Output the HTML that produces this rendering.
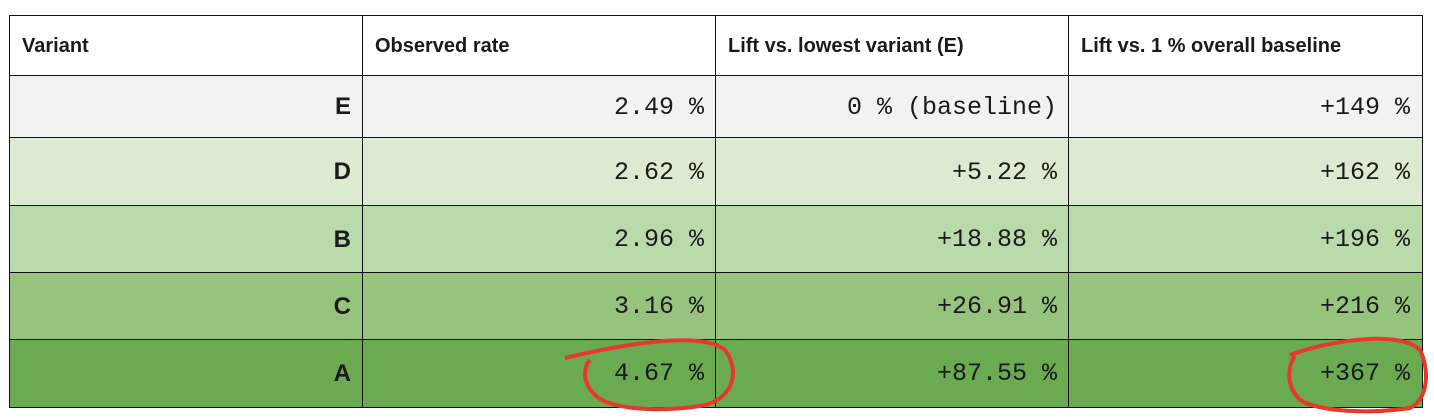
<!DOCTYPE html><html><head><style>
body{margin:0;width:1434px;height:420px;background:#fff;position:relative;overflow:hidden}
.c{position:absolute;box-sizing:border-box;border:1.5px solid #111;display:flex;align-items:center;padding:0 12px}
.h{font:bold 20px "Liberation Sans",sans-serif;color:#1a1a1a;background:#fff}
.n{justify-content:flex-end;font:25px "Liberation Mono",monospace;color:#1a1a1a}
.v{justify-content:flex-end;font:bold 24px "Liberation Sans",sans-serif;color:#1a1a1a}
</style></head><body>
<div class="c h" style="left:9px;top:15px;width:355px;height:62px">Variant</div>
<div class="c h" style="left:362px;top:15px;width:355px;height:62px">Observed rate</div>
<div class="c h" style="left:715px;top:15px;width:355px;height:62px">Lift vs. lowest variant (E)</div>
<div class="c h" style="left:1068px;top:15px;width:355px;height:62px">Lift vs. 1 % overall baseline</div>

<div class="c v" style="left:9px;top:75px;width:355px;height:64px;background:#f2f2f2">E</div>
<div class="c n" style="left:362px;top:75px;width:355px;height:64px;background:#f2f2f2">2.49 %</div>
<div class="c n" style="left:715px;top:75px;width:355px;height:64px;background:#f2f2f2">0 % (baseline)</div>
<div class="c n" style="left:1068px;top:75px;width:355px;height:64px;background:#f2f2f2">+149 %</div>

<div class="c v" style="left:9px;top:137px;width:355px;height:70px;background:#dbead0">D</div>
<div class="c n" style="left:362px;top:137px;width:355px;height:70px;background:#dbead0">2.62 %</div>
<div class="c n" style="left:715px;top:137px;width:355px;height:70px;background:#dbead0">+5.22 %</div>
<div class="c n" style="left:1068px;top:137px;width:355px;height:70px;background:#dbead0">+162 %</div>

<div class="c v" style="left:9px;top:205px;width:355px;height:69px;background:#b9dbab">B</div>
<div class="c n" style="left:362px;top:205px;width:355px;height:69px;background:#b9dbab">2.96 %</div>
<div class="c n" style="left:715px;top:205px;width:355px;height:69px;background:#b9dbab">+18.88 %</div>
<div class="c n" style="left:1068px;top:205px;width:355px;height:69px;background:#b9dbab">+196 %</div>

<div class="c v" style="left:9px;top:272px;width:355px;height:69px;background:#96c47e">C</div>
<div class="c n" style="left:362px;top:272px;width:355px;height:69px;background:#96c47e">3.16 %</div>
<div class="c n" style="left:715px;top:272px;width:355px;height:69px;background:#96c47e">+26.91 %</div>
<div class="c n" style="left:1068px;top:272px;width:355px;height:69px;background:#96c47e">+216 %</div>

<div class="c v" style="left:9px;top:339px;width:355px;height:69px;background:#6aaa50">A</div>
<div class="c n" style="left:362px;top:339px;width:355px;height:69px;background:#6aaa50">4.67 %</div>
<div class="c n" style="left:715px;top:339px;width:355px;height:69px;background:#6aaa50">+87.55 %</div>
<div class="c n" style="left:1068px;top:339px;width:355px;height:69px;background:#6aaa50">+367 %</div>

<svg style="position:absolute;left:0;top:0" width="1434" height="420">
<path d="M565 358 C620 345,700 330,725 350 C740 370,735 400,700 406 C660 412,610 410,595 395 C580 380,585 365,590 360" fill="none" stroke="#e8382e" stroke-width="4"/>
<path d="M1290 355 C1330 340,1400 330,1420 350 C1430 370,1428 400,1410 408 C1370 414,1320 412,1300 400 C1285 385,1288 365,1295 356" fill="none" stroke="#e8382e" stroke-width="4"/>
</svg>
</body></html>
